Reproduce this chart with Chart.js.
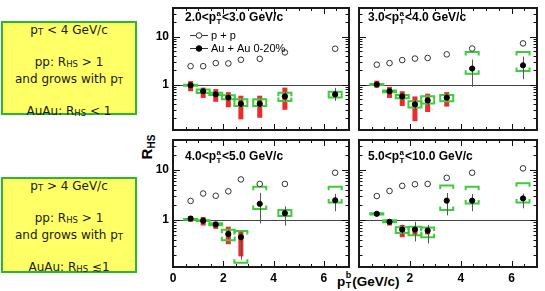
<!DOCTYPE html>
<html><head><meta charset="utf-8">
<script src="https://cdn.jsdelivr.net/npm/chart.js@4.4.0/dist/chart.umd.min.js"></script>
<style>
html,body{margin:0;padding:0;background:#fff;}
body{width:545px;height:291px;overflow:hidden;position:relative;}
canvas{position:absolute;}
.box{position:absolute;left:1px;width:132px;background:#ffff66;border:2px solid #2cb82c;text-align:center;font-family:"DejaVu Sans",sans-serif;font-size:12px;line-height:15.5px;color:#1a1a1a;white-space:nowrap;}
.s{font-size:8.5px;position:relative;top:1px;}
.ax{position:absolute;font-family:"Liberation Sans",Arial,sans-serif;font-weight:bold;color:#000;white-space:nowrap;}
</style></head>
<body>
<div class="box" style="top:21px;height:90px;">p<span class="s">T</span> &lt; 4 GeV/c<br>&nbsp;<br>pp: R<span class="s">HS</span> &gt; 1<br>and grows with p<span class="s">T</span><br>&nbsp;<br>AuAu: R<span class="s">HS</span> &lt; 1</div>
<div class="box" style="top:177px;height:92px;">p<span class="s">T</span> &gt; 4 GeV/c<br>&nbsp;<br>pp: R<span class="s">HS</span> &gt; 1<br>and grows with p<span class="s">T</span><br>&nbsp;<br>AuAu: R<span class="s">HS</span> ≲1</div>
<div class="ax" style="left:127px;top:138px;width:40px;height:18px;line-height:18px;text-align:center;font-size:15px;transform:rotate(-90deg);">R<span style="font-size:10px;position:relative;top:3px;">HS</span></div>
<div class="ax" style="left:337px;top:274px;font-size:13.5px;line-height:16px;">p<span style="display:inline-block;position:relative;width:7px;height:12px;vertical-align:baseline;"><span style="position:absolute;left:0.5px;top:-7px;font-size:9px;">b</span><span style="position:absolute;left:0.5px;top:3px;font-size:9px;">T</span></span>(GeV/c)</div>
<canvas id="c0" width="214" height="132" style="left:140px;top:3px;"></canvas>
<canvas id="c1" width="188" height="132" style="left:354px;top:3px;"></canvas>
<canvas id="c2" width="214" height="152" style="left:140px;top:135px;"></canvas>
<canvas id="c3" width="188" height="152" style="left:354px;top:135px;"></canvas>
<script>
// ---------------- data ----------------
const pTb = [0.7, 1.2, 1.7, 2.2, 2.7, 3.45, 4.45, 6.45];
const xTicksLeft = [0, 2, 4, 6];
const xTicksRight = [2, 4, 6];
const yTicks = [1, 10];
const legendLabels = ['p + p', 'Au + Au 0-20%'];
const panelTitles = [['2.0', '3.0 GeV/c'], ['3.0', '4.0 GeV/c'], ['4.0', '5.0 GeV/c'], ['5.0', '10.0 GeV/c']];

// panel 1: 2.0<pTa<3.0
const pp_23 = [2.43, 2.43, 2.82, 2.77, 3.30, 3.45, 4.70, 5.60];
const aa_23 = [0.97, 0.73, 0.63, 0.54, 0.40, 0.40, 0.57, 0.63];
const stat_23 = [[0.90,1.05],[0.66,0.80],[0.56,0.70],[0.47,0.62],[0.32,0.50],[0.33,0.49],[0.45,0.72],[0.46,0.86]];
const red_23 = [[0.73,1.19],[0.53,0.87],[0.44,0.81],[0.34,0.70],[0.19,0.59],[0.205,0.59],[0.30,0.87],[0.56,0.70]];
const green_23 = [[0.95,1.00],[0.675,0.79],[0.61,0.68],[0.50,0.60],[0.36,0.50],[0.36,0.50],[0.46,0.68],[0.54,0.71]];

// panel 2: 3.0<pTa<4.0
const pp_34 = [2.61, 2.81, 3.25, 3.50, 3.60, 4.28, 5.66, 7.24];
const aa_34 = [1.01, 0.73, 0.57, 0.39, 0.47, 0.54, 2.17, 2.53];
const stat_34 = [[0.95,1.07],[0.66,0.80],[0.50,0.64],[0.30,0.48],[0.38,0.56],[0.46,0.62],[0.90,3.35],[1.30,3.87]];
const red_34 = [[0.865,1.21],[0.53,0.90],[0.36,0.73],[0.174,0.57],[0.27,0.65],[0.35,0.70],null,null];
const green_34 = [[0.99,1.03],[0.70,0.76],[0.525,0.61],[0.335,0.45],[0.405,0.575],[0.45,0.61],[1.69,4.82],[1.93,4.82]];

// panel 3: 4.0<pTa<5.0
const pp_45 = [2.39, 3.36, 3.03, 3.72, 6.43, 5.22, 5.22, 8.75];
const aa_45 = [1.06, 0.96, 0.81, 0.52, 0.45, 2.09, 1.36, 2.46];
const stat_45 = [[1.00,1.12],[0.88,1.04],[0.72,0.90],[0.42,0.64],[0.16,0.58],[0.85,3.45],[0.77,1.86],[1.49,3.30]];
const red_45 = [[0.915,1.19],[0.77,1.14],[0.66,0.915],[0.326,0.73],[0.186,0.59],null,null,null];
const green_45 = [[1.00,1.04],[0.95,0.98],[0.78,0.85],[0.39,0.63],[0.138,0.60],[1.65,4.60],[1.19,1.58],[2.22,4.60]];

// panel 4: 5.0<pTa<10.0
const pp_510 = [2.99, 3.78, 4.78, 5.15, 5.22, 6.92, 8.75, 10.7];
const aa_510 = [1.32, 0.915, 0.64, 0.64, 0.61, 2.42, 2.42, 2.68];
const stat_510 = [[1.25,1.40],[0.86,0.97],[0.50,0.80],[0.37,0.915],[0.335,0.79],[1.23,3.45],[1.49,3.30],[1.70,3.35]];
const red_510 = [[1.22,1.42],[0.77,1.01],[0.45,0.79],[0.49,0.73],[0.51,0.68],null,null,null];
const green_510 = [[1.28,1.35],[0.90,0.98],[0.545,0.71],[0.49,0.73],[0.45,0.70],[1.58,4.85],[2.12,4.60],[2.22,5.40]];

// ---------------- drawing ----------------
const FONT = '"Liberation Sans", Arial, sans-serif';

function makePlugin(p) {
  return {
    id: 'panel' + p.idx,
    beforeDatasetsDraw(chart) {
      const {ctx, chartArea: a, scales: {x, y}} = chart;
      ctx.save();
      ctx.beginPath(); ctx.rect(a.left, a.top, a.width, a.height); ctx.clip();
      const y1 = Math.round(y.getPixelForValue(1)) + 0.5;
      ctx.strokeStyle = '#444'; ctx.lineWidth = 1;
      ctx.beginPath(); ctx.moveTo(a.left, y1); ctx.lineTo(a.right, y1); ctx.stroke();
      ctx.fillStyle = '#ee2b2b';
      p.red.forEach((r, i) => {
        if (!r) return;
        const px = x.getPixelForValue(p.x[i]);
        const t = y.getPixelForValue(r[1]), b = y.getPixelForValue(r[0]);
        ctx.fillRect(px - 2.5, t, 5, b - t);
      });
      ctx.strokeStyle = '#3ccc3c'; ctx.lineWidth = 2;
      p.green.forEach((g, i) => {
        if (!g) return;
        const px = x.getPixelForValue(p.x[i]);
        const t = y.getPixelForValue(g[1]), b = y.getPixelForValue(g[0]);
        const hw = 6.5, tk = Math.min(3.5, (b - t) / 2);
        ctx.beginPath();
        ctx.moveTo(px - hw, t + tk); ctx.lineTo(px - hw, t); ctx.lineTo(px + hw, t); ctx.lineTo(px + hw, t + tk);
        ctx.moveTo(px - hw, b - tk); ctx.lineTo(px - hw, b); ctx.lineTo(px + hw, b); ctx.lineTo(px + hw, b - tk);
        ctx.stroke();
      });
      ctx.strokeStyle = '#555'; ctx.lineWidth = 1;
      p.stat.forEach((s, i) => {
        const px = Math.round(x.getPixelForValue(p.x[i])) + 0.5;
        ctx.beginPath(); ctx.moveTo(px, y.getPixelForValue(s[0])); ctx.lineTo(px, y.getPixelForValue(s[1])); ctx.stroke();
      });
      ctx.restore();
    },
    afterDraw(chart) {
      const {ctx, chartArea: a, scales: {x, y}} = chart;
      ctx.save();
      ctx.strokeStyle = '#111'; ctx.lineWidth = 1;
      for (let v = 0; v <= 7.001; v += 0.5) {
        const px = Math.round(x.getPixelForValue(v)) + 0.5;
        const L = (Math.abs(v % 2) < 1e-6) ? 6 : 3;
        ctx.beginPath();
        ctx.moveTo(px, a.bottom); ctx.lineTo(px, a.bottom - L);
        ctx.moveTo(px, a.top); ctx.lineTo(px, a.top + L);
        ctx.stroke();
      }
      for (let d = -1; d <= 1; d++) {
        for (let m = 1; m <= 9; m++) {
          const v = m * Math.pow(10, d);
          if (v < y.min || v > y.max) continue;
          const py = Math.round(y.getPixelForValue(v)) + 0.5;
          const L = m === 1 ? 7 : 3.5;
          ctx.beginPath();
          ctx.moveTo(a.left, py); ctx.lineTo(a.left + L, py);
          ctx.moveTo(a.right, py); ctx.lineTo(a.right - L, py);
          ctx.stroke();
        }
      }
      ctx.lineWidth = 2; ctx.strokeStyle = '#1a1a1a';
      ctx.strokeRect(a.left, a.top, a.width, a.height);
      ctx.fillStyle = '#000';
      ctx.textBaseline = 'alphabetic'; ctx.textAlign = 'left';
      const tx = a.left + p.titleDx, ty = a.top + p.titleDy;
      ctx.font = 'bold 12px ' + FONT;
      const pre = p.title[0] + '<p';
      ctx.fillText(pre, tx, ty);
      const w = ctx.measureText(pre).width;
      ctx.font = 'bold 8px ' + FONT;
      ctx.fillText('a', tx + w + 0.5, ty - 5);
      ctx.fillText('T', tx + w + 0.5, ty + 3);
      ctx.font = 'bold 12px ' + FONT;
      ctx.fillText('<' + p.title[1], tx + w + 6, ty);
      if (p.legend) {
        const lx = a.left + 17, ly = [a.top + 27, a.top + 40];
        ctx.lineWidth = 1;
        ly.forEach((yy, k) => {
          ctx.strokeStyle = '#333';
          ctx.beginPath(); ctx.moveTo(lx, yy + 0.5); ctx.lineTo(lx + 18, yy + 0.5); ctx.stroke();
          ctx.beginPath(); ctx.arc(lx + 9, yy + 0.5, 2.8, 0, Math.PI * 2);
          ctx.fillStyle = k === 0 ? '#fff' : '#000'; ctx.fill();
          ctx.strokeStyle = k === 0 ? '#333' : '#000'; ctx.stroke();
          ctx.fillStyle = '#000'; ctx.font = '11px ' + FONT; ctx.textBaseline = 'middle';
          ctx.fillText(legendLabels[k], lx + 21, yy + 1);
        });
      }
      ctx.restore();
    }
  };
}

const panels = [
  {idx: 0, id: 'c0', pp: pp_23, aa: aa_23, stat: stat_23, red: red_23, green: green_23, title: panelTitles[0], showX: false, showY: true, xt: xTicksLeft, legend: true, titleDx: 12, titleDy: 13},
  {idx: 1, id: 'c1', pp: pp_34, aa: aa_34, stat: stat_34, red: red_34, green: green_34, title: panelTitles[1], showX: false, showY: false, xt: xTicksRight, legend: false, titleDx: 9, titleDy: 13},
  {idx: 2, id: 'c2', pp: pp_45, aa: aa_45, stat: stat_45, red: red_45, green: green_45, title: panelTitles[2], showX: true, showY: true, xt: xTicksLeft, legend: false, titleDx: 12, titleDy: 20},
  {idx: 3, id: 'c3', pp: pp_510, aa: aa_510, stat: stat_510, red: red_510, green: green_510, title: panelTitles[3], showX: true, showY: false, xt: xTicksRight, legend: false, titleDx: 9, titleDy: 20}
];

function zeroPad(s) { s.paddingTop = 0; s.paddingBottom = 0; s.paddingLeft = 0; s.paddingRight = 0; }

panels.forEach(p => {
  p.x = pTb;
  new Chart(document.getElementById(p.id), {
    type: 'scatter',
    data: {
      datasets: [
        {label: legendLabels[0], data: pTb.map((v, i) => ({x: v, y: p.pp[i]})), pointStyle: 'circle', pointRadius: 2.8, pointBackgroundColor: '#fff', pointBorderColor: '#333', pointBorderWidth: 1},
        {label: legendLabels[1], data: pTb.map((v, i) => ({x: v, y: p.aa[i]})), pointStyle: 'circle', pointRadius: 2.6, pointBackgroundColor: '#000', pointBorderColor: '#000', pointBorderWidth: 1}
      ]
    },
    options: {
      responsive: false, animation: false, events: [],
      layout: {padding: 0},
      plugins: {legend: {display: false}, tooltip: {enabled: false}},
      scales: {
        x: {
          type: 'linear', min: 0, max: 7, display: p.showX,
          grid: {display: false, drawTicks: false}, border: {display: false},
          ticks: {font: {family: FONT, size: 12, weight: 'bold'}, color: '#000', padding: 4, maxRotation: 0, autoSkip: false, callback: v => String(v)},
          afterBuildTicks: s => { s.ticks = p.xt.map(v => ({value: v})); },
          afterFit: s => { if (p.showX) s.height = 20; zeroPad(s); }
        },
        y: {
          type: 'logarithmic', min: 0.114, max: 39.5, display: p.showY,
          grid: {display: false, drawTicks: false}, border: {display: false},
          ticks: {font: {family: FONT, size: 12, weight: 'bold'}, color: '#000', padding: 4, autoSkip: false, callback: v => String(v)},
          afterBuildTicks: s => { s.ticks = yTicks.map(v => ({value: v})); },
          afterFit: s => { if (p.showY) s.width = 33; zeroPad(s); }
        }
      }
    },
    plugins: [makePlugin(p)]
  });
});
</script>
</body></html>
